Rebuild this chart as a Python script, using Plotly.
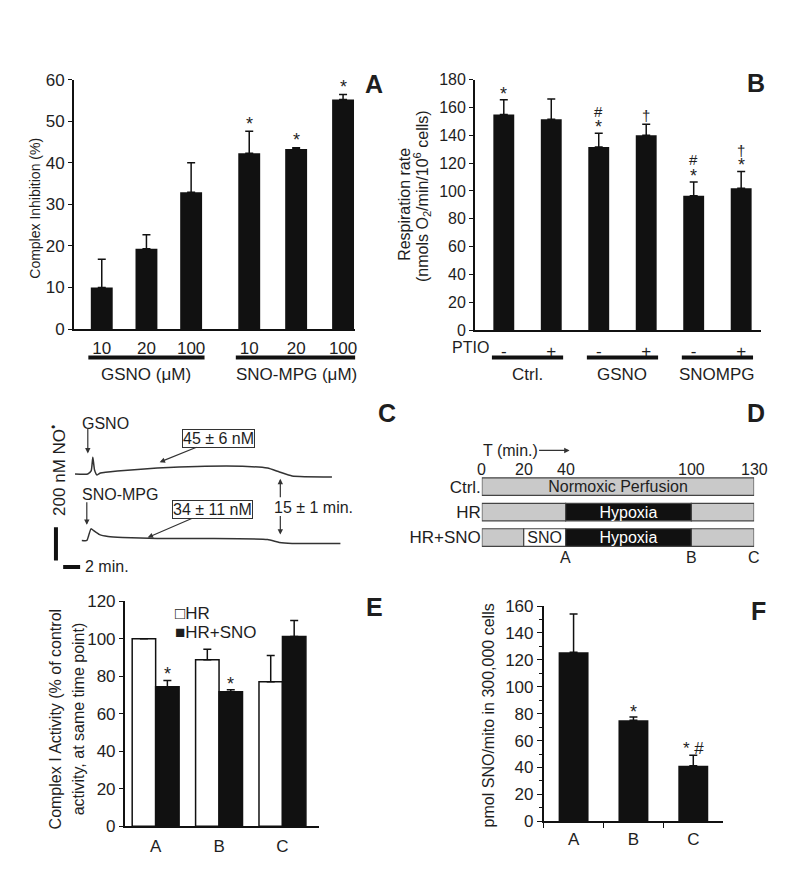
import plotly.graph_objects as go

W, H = 800, 881
FONT = "Liberation Sans, Arial, Helvetica, DejaVu Sans, sans-serif"
INK = "#111111"
TXT = "#1e1e1e"
GRAY = "#c9c9c9"
EDGE = "#444444"

# ---------------- Data ----------------
# Panel A: complex I inhibition
a_conc = ["10", "20", "100", "10", "20", "100"]
a_pos = [1, 2, 3, 4.3, 5.35, 6.4]
a_val = [10.0, 19.3, 32.9, 42.3, 43.3, 55.2]
a_err = [6.8, 3.4, 7.1, 5.3, 0.3, 1.2]
a_sig = [[], [], [], ["*"], ["*"], ["*"]]
a_groups = ["GSNO (μM)", "SNO-MPG (μM)"]
a_members = [[0, 1, 2], [3, 4, 5]]

# Panel B: respiration rate
b_ptio = ["-", "+", "-", "+", "-", "+"]
b_pos = [1, 2, 3, 4, 5, 6]
b_val = [155, 151.5, 131.5, 140, 96.5, 102]
b_err = [10.5, 14.5, 10, 8, 10, 12]
b_sig = [["*"], [], ["*", "#"], ["†"], ["*", "#"], ["*", "†"]]
b_groups = ["Ctrl.", "GSNO", "SNOMPG"]
b_members = [[0, 1], [2, 3], [4, 5]]

# Panel C: NO electrode traces (time in min, NO in nM relative to each trace baseline)
c_gsno_t = [3.2, 4.7, 5.1, 5.3, 5.5, 5.8, 6.2, 8.2, 12.9, 17.6, 23.5, 25.9, 27.3, 28.8, 33.5]
c_gsno_no = [0, 0, 18, 100, 24, -6, 6, 18, 35, 45, 45, 35, 12, -12, -18]
c_sno_t = [4.0, 4.6, 4.8, 5.1, 5.4, 6.1, 7.1, 8.8, 12.9, 18.8, 25.9, 27.3, 28.8, 34.5]
c_sno_no = [0, 0, 29, 71, 59, 35, 24, 18, 12, 12, 6, -12, -18, -18]
c_gsno_offset = 400
c_sno_offset = 0
c_scale_nm = 200
c_scale_min = 2

# Panel D: protocol schematic
d_rows = ["Ctrl.", "HR", "HR+SNO"]
d_seg_row = [0, 1, 1, 1, 2, 2, 2, 2]
d_seg_start = [0, 0, 40, 100, 0, 20, 40, 100]
d_seg_end = [130, 40, 100, 130, 20, 40, 100, 130]
d_seg_kind = ["norm", "norm", "hyp", "norm", "norm", "sno", "hyp", "norm"]
d_seg_text = ["Normoxic Perfusion", "", "Hypoxia", "", "", "SNO", "Hypoxia", ""]
d_ticks = [0, 20, 40, 100, 130]
d_points = ["A", "B", "C"]
d_point_t = [40, 100, 130]

# Panel E: complex I activity
e_cats = ["A", "B", "C"]
e_hr = [100, 88.7, 77]
e_hr_err = [0, 5.6, 14]
e_sno = [74.3, 71.7, 101.2]
e_sno_err = [3.4, 1.0, 8.4]
e_sno_sig = [["*"], ["*"], []]

# Panel F: SNO per mito
f_cats = ["A", "B", "C"]
f_val = [125.6, 75, 41.2]
f_err = [28.4, 2.6, 7.8]
f_sig = [[], ["*"], ["* #"]]


# ---------------- helpers ----------------
def px_x(p):
    return p / W


def px_y(p):
    return 1 - p / H


def dom_x(a, b):
    return [a / W, b / W]


def dom_y(top, bot):
    return [1 - bot / H, 1 - top / H]


def ann(text, x, y, size=15, xanchor="center", yanchor="middle", **kw):
    d = dict(text=text, x=px_x(x), y=px_y(y), xref="paper", yref="paper",
             showarrow=False, xanchor=xanchor, yanchor=yanchor,
             font=dict(size=size, color=TXT, family=FONT))
    d.update(kw)
    return d


def arrow(hx, hy, ax, ay, text="", size=15, **kw):
    d = dict(text=text, x=px_x(hx), y=px_y(hy), xref="paper", yref="paper",
             showarrow=True, ax=ax, ay=ay, arrowhead=2, arrowsize=0.9,
             arrowwidth=1.2, arrowcolor="#333333",
             font=dict(size=size, color=TXT, family=FONT))
    d.update(kw)
    return d


GLYPH_CORR = {"*": 4, "#": 0, "†": 1, "* #": 2}
GLYPH_SIZE = {"*": 18, "#": 15, "†": 15, "* #": 17}


def sig_ann(xref, yref, x, top, syms, base, step=12):
    out = []
    for k, s in enumerate(syms):
        out.append(dict(xref=xref, yref=yref, x=x, y=top, text=s, showarrow=False,
                        yanchor="middle", xanchor="center",
                        yshift=base + step * k - GLYPH_CORR.get(s, 0),
                        font=dict(size=GLYPH_SIZE.get(s, 15), color=TXT, family=FONT)))
    return out


def yax(domain, rng, dtick, anchor, size=15, **kw):
    d = dict(domain=domain, range=rng, dtick=dtick, tick0=0, anchor=anchor,
             showline=True, linecolor=INK, linewidth=1.5, ticks="outside",
             ticklen=4, tickwidth=1.2, tickcolor=INK, showgrid=False,
             zeroline=False, tickfont=dict(size=size, color=TXT, family=FONT),
             fixedrange=True)
    d.update(kw)
    return d


def xax(domain, rng, anchor, size=15, **kw):
    d = dict(domain=domain, range=rng, anchor=anchor, showline=True,
             linecolor=INK, linewidth=1.5, ticks="", showgrid=False,
             zeroline=False, tickfont=dict(size=size, color=TXT, family=FONT),
             fixedrange=True)
    d.update(kw)
    return d


def errbar(arr, width=4):
    return dict(type="data", array=arr, arrayminus=[0] * len(arr),
                symmetric=False, color=INK, thickness=1.5, width=width)


fig = go.Figure()
annotations = []
shapes = []

# ---------------- Panel A ----------------
fig.add_trace(go.Bar(x=a_pos, y=a_val, width=0.49,
                     marker=dict(color=INK, line=dict(width=0)),
                     error_y=errbar(a_err), xaxis="x", yaxis="y",
                     showlegend=False, hoverinfo="skip"))
for i in range(len(a_pos)):
    annotations += sig_ann("x", "y", a_pos[i], a_val[i] + a_err[i], a_sig[i], base=11.5)
for g, mem in zip(a_groups, a_members):
    x0 = a_pos[mem[0]] - 0.3
    x1 = a_pos[mem[-1]] + 0.3
    shapes.append(dict(type="line", xref="x", yref="paper", x0=x0, x1=x1,
                       y0=px_y(348), y1=px_y(348), line=dict(color=INK, width=4)))
    xc = sum(a_pos[m] for m in mem) / len(mem)
    annotations.append(dict(text=g, x=xc, y=px_y(365), xref="x", yref="paper",
                            showarrow=False, font=dict(size=17, color=TXT, family=FONT)))
annotations.append(ann("Complex Inhibition (%)", 27, 195, size=14, textangle=-90))
annotations.append(ann("<b>A</b>", 367, 68, size=25))

# ---------------- Panel B ----------------
fig.add_trace(go.Bar(x=b_pos, y=b_val, width=0.44,
                     marker=dict(color=INK, line=dict(width=0)),
                     error_y=errbar(b_err), xaxis="x2", yaxis="y2",
                     showlegend=False, hoverinfo="skip"))
for i in range(len(b_pos)):
    annotations += sig_ann("x2", "y2", b_pos[i], b_val[i] + b_err[i], b_sig[i], base=10, step=12)
for g, mem in zip(b_groups, b_members):
    x0 = b_pos[mem[0]] - 0.25
    x1 = b_pos[mem[-1]] + 0.25
    shapes.append(dict(type="line", xref="x2", yref="paper", x0=x0, x1=x1,
                       y0=px_y(348), y1=px_y(348), line=dict(color=INK, width=4)))
    xc = sum(b_pos[m] for m in mem) / len(mem)
    annotations.append(dict(text=g, x=xc, y=px_y(365), xref="x2", yref="paper",
                            showarrow=False, font=dict(size=17, color=TXT, family=FONT)))
annotations.append(ann("PTIO", 484, 338, size=16, xanchor="right"))
annotations.append(ann("Respiration rate", 398, 192, size=16, textangle=-90))
annotations.append(ann("(nmols O<sub>2</sub>/min/10<sup>6</sup> cells)", 415, 183, size=16, textangle=-90))
annotations.append(ann("<b>B</b>", 750, 67, size=25))

# ---------------- Panel C ----------------
for tt, vv, off in [(c_gsno_t, c_gsno_no, c_gsno_offset), (c_sno_t, c_sno_no, c_sno_offset)]:
    fig.add_trace(go.Scatter(x=tt, y=[v + off for v in vv],
                             mode="lines", line=dict(color="#333333", width=1.5, shape="spline", smoothing=0.5),
                             xaxis="x3", yaxis="y3", showlegend=False, hoverinfo="skip"))
# scale bars (200 nM vertical, 2 min horizontal)
vbar_t, vbar_y0 = 0.95, -120
hbar_t0, hbar_y = 1.8, -160
fig.add_trace(go.Scatter(x=[vbar_t, vbar_t], y=[vbar_y0, vbar_y0 + c_scale_nm], mode="lines",
                         line=dict(color=INK, width=4), xaxis="x3", yaxis="y3",
                         showlegend=False, hoverinfo="skip"))
fig.add_trace(go.Scatter(x=[hbar_t0, hbar_t0 + c_scale_min], y=[hbar_y, hbar_y], mode="lines",
                         line=dict(color=INK, width=4), xaxis="x3", yaxis="y3",
                         showlegend=False, hoverinfo="skip"))
annotations += [
    ann("GSNO", 98, 415, size=16),
    arrow(80, 446, 0, -26),
    arrow(152, 455, 59, -24, text="45 ± 6 nM", size=16, bordercolor="#333333", borderwidth=1,
          borderpad=0, bgcolor="white"),
    ann("SNO-MPG", 112, 488, size=16),
    arrow(79, 519, 0, -24),
    arrow(140, 532, 65, -28, text="34 ± 11 nM", size=16, bordercolor="#333333", borderwidth=1,
          borderpad=0, bgcolor="white"),
    ann("15 ± 1 min.", 265, 501, size=16, xanchor="left"),
    arrow(273, 472, 0, 20),
    arrow(273, 529, 0, -20),
    ann("200 nM NO<sup>•</sup>", 50, 463, size=17, textangle=-90),
    ann(f"{c_scale_min} min.", 75, 562, size=16, xanchor="left"),
    ann("<b>C</b>", 380, 405, size=25),
]

# ---------------- Panel D ----------------
seg_fill = {"norm": GRAY, "hyp": INK, "sno": "white"}
seg_txt = {"norm": TXT, "hyp": "white", "sno": TXT}
idx_plain = [i for i, t in enumerate(d_seg_text) if not t]
idx_lab = [i for i, t in enumerate(d_seg_text) if t]
for idx, with_text in [(idx_plain, False), (idx_lab, True)]:
    kw = {}
    if with_text:
        kw = dict(text=[d_seg_text[i] for i in idx], textposition="inside",
                  insidetextanchor="middle", textangle=0, constraintext="none",
                  insidetextfont=dict(size=16, color=[seg_txt[d_seg_kind[i]] for i in idx], family=FONT))
    fig.add_trace(go.Bar(
        y=[d_seg_row[i] for i in idx],
        x=[d_seg_end[i] - d_seg_start[i] for i in idx],
        base=[d_seg_start[i] for i in idx],
        orientation="h", width=0.69,
        marker=dict(color=[seg_fill[d_seg_kind[i]] for i in idx], line=dict(color=EDGE, width=1.2)),
        xaxis="x4", yaxis="y4", showlegend=False, hoverinfo="skip", **kw))
for t in d_ticks:
    annotations.append(dict(text=str(t), x=t, y=px_y(462), xref="x4", yref="paper",
                            showarrow=False, font=dict(size=16, color=TXT, family=FONT)))
for lab, t in zip(d_points, d_point_t):
    annotations.append(dict(text=lab, x=t, y=px_y(552), xref="x4", yref="paper",
                            showarrow=False, font=dict(size=16, color=TXT, family=FONT)))
annotations += [
    ann("T (min.)", 474, 443, size=16, xanchor="left"),
    arrow(563, 443, -32, 0),
    ann("<b>D</b>", 750, 405, size=25),
]

# ---------------- Panel E ----------------
e_x = list(range(len(e_cats)))
bw = 0.37
fig.add_trace(go.Bar(x=[i - bw / 2 for i in e_x], y=e_hr, width=bw, name="HR",
                     marker=dict(color="white", line=dict(color=INK, width=1.5)),
                     error_y=errbar(e_hr_err), xaxis="x5", yaxis="y5",
                     showlegend=False, hoverinfo="skip"))
fig.add_trace(go.Bar(x=[i + bw / 2 for i in e_x], y=e_sno, width=bw, name="HR+SNO",
                     marker=dict(color=INK, line=dict(color=INK, width=1.5)),
                     error_y=errbar(e_sno_err), xaxis="x5", yaxis="y5",
                     showlegend=False, hoverinfo="skip"))
for i in e_x:
    annotations += sig_ann("x5", "y5", i + bw / 2, e_sno[i] + e_sno_err[i], e_sno_sig[i], base=10)
annotations += [
    ann("□HR", 165, 610, size=17, xanchor="left"),
    ann("■HR+SNO", 165, 629, size=17, xanchor="left"),
    ann("Complex I Activity (% of control", 48, 717, size=16, textangle=-90),
    ann("activity, at same time point)", 71, 717, size=16, textangle=-90),
    ann("<b>E</b>", 367, 603, size=25),
]

# ---------------- Panel F ----------------
fig.add_trace(go.Bar(x=f_cats, y=f_val, width=0.5,
                     marker=dict(color=INK, line=dict(width=0)),
                     error_y=errbar(f_err), xaxis="x6", yaxis="y6",
                     showlegend=False, hoverinfo="skip"))
for i, c in enumerate(f_cats):
    annotations += sig_ann("x6", "y6", c, f_val[i] + f_err[i], f_sig[i], base=9)
annotations += [
    ann("pmol SNO/mito in 300,000 cells", 482, 714, size=16, textangle=-90),
    ann("<b>F</b>", 752, 607, size=25),
]

# ---------------- Layout ----------------
fig.update_layout(
    width=W, height=H, margin=dict(l=0, r=0, t=0, b=0),
    paper_bgcolor="white", plot_bgcolor="white",
    font=dict(family=FONT, size=15, color=TXT),
    barmode="overlay", showlegend=False,
    # A
    xaxis=xax(dom_x(66, 348), [0.375, 6.67], "y", size=17,
              tickmode="array", tickvals=a_pos, ticktext=a_conc, ticklabelstandoff=3),
    yaxis=yax(dom_y(64, 319), [0, 60], 10, "x", size=17),
    # B
    xaxis2=xax(dom_x(468, 755), [0.39, 6.42], "y2", size=17,
               tickmode="array", tickvals=b_pos, ticktext=b_ptio, ticklabelstandoff=5),
    yaxis2=yax(dom_y(64, 320), [0, 180], 20, "x2", size=16),
    # C
    xaxis3=dict(domain=dom_x(40, 390), range=[0, 350 / 8.5], visible=False,
                anchor="y3", fixedrange=True),
    yaxis3=dict(domain=dom_y(400, 575), range=[(535 - 575) / 0.17, (535 - 400) / 0.17],
                visible=False, anchor="x3", fixedrange=True),
    # D
    xaxis4=dict(domain=dom_x(475, 748), range=[0, 130], visible=False,
                anchor="y4", fixedrange=True),
    yaxis4=dict(domain=dom_y(467, 545), range=[2.5, -0.5], anchor="x4",
                tickmode="array", tickvals=[0, 1, 2], ticktext=d_rows, ticks="",
                showline=False, showgrid=False, zeroline=False,
                tickfont=dict(size=17, color=TXT, family=FONT), fixedrange=True),
    # E
    xaxis5=xax(dom_x(117, 312), [-0.488, 2.58], "y5", size=17,
               tickmode="array", tickvals=e_x, ticktext=e_cats, ticklabelstandoff=4),
    yaxis5=yax(dom_y(597, 827), [0, 120], 20, "x5", size=17),
    # F
    xaxis6=xax(dom_x(537, 717), [-0.5, 2.5], "y6", size=17, type="category",
               ticks="outside", tickson="boundaries", ticklen=5, tickwidth=1.2,
               tickcolor=INK, ticklabelstandoff=2),
    yaxis6=yax(dom_y(602, 822), [0, 160], 20, "x6", size=17, ticklen=5,
               minor=dict(dtick=10, ticks="outside", ticklen=3, tickcolor=INK, tickwidth=1)),
    annotations=annotations,
    shapes=shapes,
)

fig.write_html("out.html")
